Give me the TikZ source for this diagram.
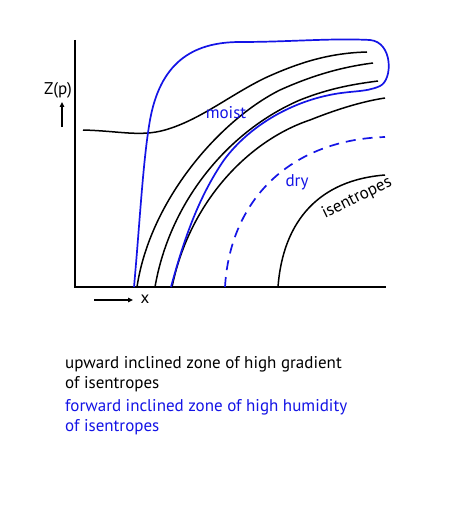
\documentclass[tikz,border=0pt]{standalone}
\usepackage{fontspec}
\setmainfont{PT Sans}
\usetikzlibrary{arrows.meta}
\definecolor{myblue}{RGB}{20,20,230}
\tikzset{
  isen/.style={black,line width=1.5pt},
  moistline/.style={myblue,line width=1.7pt},
  lbl/.style={inner sep=0pt,font=\fontsize{17}{20}\selectfont},
  bluelbl/.style={lbl,text=myblue},
  ax/.style={black,line width=1.5pt},
  arr/.style={black,line width=1.3pt,-{Triangle[length=5pt,width=4.5pt]}}
}
\begin{document}
\begin{tikzpicture}[x=1pt,y=-1pt]
\useasboundingbox[fill=white] (0,0) rectangle (450,524);
% axes
\coordinate (top) at (75,40);
\coordinate (orig) at (75,287);
\coordinate (right) at (386,287);
\draw[ax] (top) -- (orig) -- (right);
% axis labels
\node[lbl] (zp) at (58,90) {Z(p)};
\coordinate (za) at (62,127);
\coordinate (zb) at (62,102);
\draw[arr] (za) -- (zb);
\coordinate (xa) at (94,300);
\coordinate (xb) at (133,300);
\draw[arr] (xa) -- (xb);
\node[lbl] (xl) at (145,299) {x};
% isentropes
\draw[isen] (83,130) .. controls (120,131) and (140,137) .. (165,130)
  .. controls (200,120) and (230,95) .. (265,78)
  .. controls (300,62) and (330,53) .. (367,52);
\draw[isen] (137,287) .. controls (150,200) and (220,120) .. (280,90)
  .. controls (320,72) and (350,66) .. (373,63);
\draw[isen] (155,287) .. controls (170,200) and (230,130) .. (300,100)
  .. controls (330,88) and (355,84) .. (378,81);
\draw[isen] (172,287) .. controls (190,200) and (250,140) .. (310,120)
  .. controls (340,108) and (365,101) .. (385,98);
\draw[isen] (278,287) .. controls (283,220) and (320,180) .. (385,175);
% moist zone boundary
\draw[moistline] (134,287) .. controls (140,220) and (143,160) .. (150,120)
  .. controls (160,65) and (190,42) .. (240,42)
  .. controls (290,42) and (330,38) .. (370,40)
  .. controls (393,42) and (393,80) .. (380,86)
  .. controls (365,93) and (350,90) .. (325,96)
  .. controls (290,104) and (250,125) .. (224,160)
  .. controls (200,195) and (185,235) .. (171,287);
% dry boundary
\draw[moistline,dash pattern=on 10pt off 7pt] (225,287) .. controls (230,200) and (290,140) .. (385,137);
% labels
\node[bluelbl] (moist) at (226,113) {moist};
\node[bluelbl] (dry) at (297,182) {dry};
\node[lbl,rotate=26] (isl) at (357,198) {isentropes};
% caption
\node[lbl,anchor=base west] (c1) at (65,368) {upward inclined zone of high gradient};
\node[lbl,anchor=base west] (c2) at (65,388) {of isentropes};
\node[bluelbl,anchor=base west] (c3) at (65,411) {forward inclined zone of high humidity};
\node[bluelbl,anchor=base west] (c4) at (65,431) {of isentropes};
\end{tikzpicture}
\end{document}
